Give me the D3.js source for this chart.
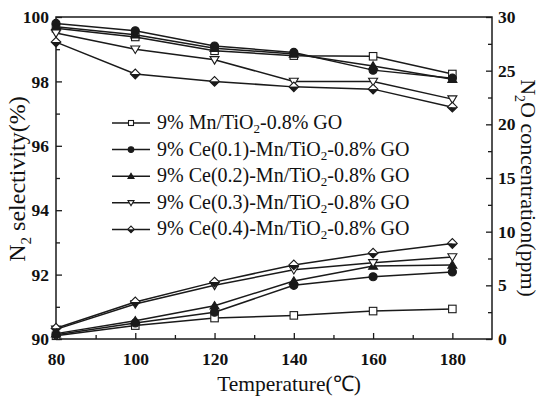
<!DOCTYPE html>
<html>
<head>
<meta charset="utf-8">
<script src="https://cdn.jsdelivr.net/npm/d3@7/dist/d3.min.js"></script>
<style>
  html, body { margin: 0; padding: 0; background: #fff; }
  svg { display: block; }
</style>
</head>
<body>
<svg id="chart" width="550" height="396"></svg>
<script>
// ---------------- DATA ----------------
const temperatures = [80, 100, 120, 140, 160, 180];

const seriesNames = [
  ["9% Mn/TiO", "2", "-0.8% GO"],
  ["9% Ce(0.1)-Mn/TiO", "2", "-0.8% GO"],
  ["9% Ce(0.2)-Mn/TiO", "2", "-0.8% GO"],
  ["9% Ce(0.3)-Mn/TiO", "2", "-0.8% GO"],
  ["9% Ce(0.4)-Mn/TiO", "2", "-0.8% GO"]
];
const markerTypes = ["squareOpen", "circleFilled", "triangleFilled", "triangleDownOpen", "diamondHalf"];

// N2 selectivity (%) - left axis
const selMn   = [99.65, 99.38, 98.95, 98.80, 98.78, 98.23];
const selCe01 = [99.80, 99.57, 99.10, 98.90, 98.35, 98.10];
const selCe02 = [99.70, 99.45, 99.03, 98.85, 98.48, 98.07];
const selCe03 = [99.50, 99.00, 98.67, 98.00, 98.00, 97.45];
const selCe04 = [99.22, 98.23, 98.00, 97.83, 97.76, 97.20];

// N2O concentration (ppm) - right axis
const n2oMn   = [0.3, 1.25, 1.95, 2.2, 2.6, 2.8];
const n2oCe01 = [0.4, 1.5, 2.5, 5.0, 5.8, 6.25];
const n2oCe02 = [0.5, 1.7, 3.1, 5.4, 6.8, 6.9];
const n2oCe03 = [0.9, 3.26, 5.0, 6.45, 7.1, 7.65];
const n2oCe04 = [1.0, 3.45, 5.3, 6.9, 8.0, 8.9];

const selSeries = [selMn, selCe01, selCe02, selCe03, selCe04];
const n2oSeries = [n2oMn, n2oCe01, n2oCe02, n2oCe03, n2oCe04];

const xTicks = [80, 100, 120, 140, 160, 180];
const yLeftTicks = [90, 92, 94, 96, 98, 100];
const yRightTicks = [0, 5, 10, 15, 20, 25, 30];

// ---------------- LAYOUT ----------------
const FONT = "'Liberation Serif', 'Times New Roman', Tinos, serif";
const svg = d3.select("#chart").attr("font-family", FONT);
const L = 56, R = 492, T = 17, B = 339;
const ink = "#1a1a1a";

const x = d3.scaleLinear().domain([80, 190]).range([L, R]);
const yL = d3.scaleLinear().domain([90, 100]).range([B, T]);
const yR = d3.scaleLinear().domain([0, 30]).range([B, T]);

// frame
svg.append("rect").attr("x", L).attr("y", T).attr("width", R - L).attr("height", B - T)
  .attr("fill", "none").attr("stroke", ink).attr("stroke-width", 1.5);

function styleAxis(g) {
  g.attr("font-family", FONT);
  g.select(".domain").remove();
  g.selectAll("line").attr("stroke", ink).attr("stroke-width", 1.3);
  g.selectAll("text").attr("font-weight", "bold").attr("font-size", "17.5px")
    .attr("font-family", FONT).attr("fill", "#111");
}
function styleMinor(g) {
  g.select(".domain").remove();
  g.selectAll("line").attr("stroke", ink).attr("stroke-width", 1.3);
}

// x axis
const gx = svg.append("g").attr("transform", `translate(0,${B})`)
  .call(d3.axisBottom(x).tickValues(xTicks).tickSize(-6).tickPadding(14).tickFormat(d3.format("d")));
styleAxis(gx);
svg.append("g").attr("transform", `translate(0,${B})`)
  .call(d3.axisBottom(x).tickValues([90, 110, 130, 150, 170]).tickSize(-4).tickFormat(""))
  .call(styleMinor);

// left axis
const gyl = svg.append("g").attr("transform", `translate(${L},0)`)
  .call(d3.axisLeft(yL).tickValues(yLeftTicks).tickSize(-6).tickPadding(7).tickFormat(d3.format("d")));
styleAxis(gyl);
svg.append("g").attr("transform", `translate(${L},0)`)
  .call(d3.axisLeft(yL).tickValues([91, 93, 95, 97, 99]).tickSize(-4).tickFormat(""))
  .call(styleMinor);

// right axis
const gyr = svg.append("g").attr("transform", `translate(${R},0)`)
  .call(d3.axisRight(yR).tickValues(yRightTicks).tickSize(-6).tickPadding(6).tickFormat(d3.format("d")));
styleAxis(gyr);
svg.append("g").attr("transform", `translate(${R},0)`)
  .call(d3.axisRight(yR).tickValues([2.5, 7.5, 12.5, 17.5, 22.5, 27.5]).tickSize(-4).tickFormat(""))
  .call(styleMinor);

// ---------------- MARKERS ----------------
function drawMarker(g, type, cx, cy, s) {
  const sw = 1.1;
  if (type === "squareOpen") {
    g.append("rect").attr("x", cx - s / 2).attr("y", cy - s / 2).attr("width", s).attr("height", s)
      .attr("fill", "#fff").attr("stroke", ink).attr("stroke-width", sw);
  } else if (type === "circleFilled") {
    g.append("circle").attr("cx", cx).attr("cy", cy).attr("r", s / 2 + 0.3)
      .attr("fill", ink).attr("stroke", ink).attr("stroke-width", sw);
  } else if (type === "triangleFilled") {
    const h = s * 0.95;
    g.append("path").attr("d", `M${cx},${cy - h * 0.6}L${cx + s * 0.6},${cy + h * 0.45}L${cx - s * 0.6},${cy + h * 0.45}Z`)
      .attr("fill", ink).attr("stroke", ink).attr("stroke-width", sw);
  } else if (type === "triangleDownOpen") {
    const h = s * 0.95;
    g.append("path").attr("d", `M${cx},${cy + h * 0.6}L${cx + s * 0.6},${cy - h * 0.45}L${cx - s * 0.6},${cy - h * 0.45}Z`)
      .attr("fill", "#fff").attr("stroke", ink).attr("stroke-width", sw);
  } else if (type === "diamondHalf") {
    const r = s * 0.65;
    g.append("path").attr("d", `M${cx - r},${cy}L${cx},${cy - r}L${cx + r},${cy}Z`).attr("fill", "#fff");
    g.append("path").attr("d", `M${cx - r},${cy}L${cx},${cy + r}L${cx + r},${cy}Z`).attr("fill", ink);
    g.append("path").attr("d", `M${cx - r},${cy}L${cx},${cy - r}L${cx + r},${cy}L${cx},${cy + r}Z`)
      .attr("fill", "none").attr("stroke", ink).attr("stroke-width", sw);
  }
}

const plot = svg.append("g");
function drawSeries(values, yScale, type) {
  const pts = temperatures.map((t, i) => [x(t), yScale(values[i])]);
  plot.append("path").attr("d", d3.line()(pts)).attr("fill", "none")
    .attr("stroke", ink).attr("stroke-width", 1.5);
  const mg = plot.append("g");
  pts.forEach(p => drawMarker(mg, type, p[0], p[1], 7.5));
}
for (let i = 0; i < 5; i++) {
  drawSeries(selSeries[i], yL, markerTypes[i]);
  drawSeries(n2oSeries[i], yR, markerTypes[i]);
}

// ---------------- LEGEND ----------------
const lg = svg.append("g");
seriesNames.forEach((parts, i) => {
  const yy = 123 + i * 26.6;
  lg.append("line").attr("x1", 112).attr("x2", 150).attr("y1", yy).attr("y2", yy)
    .attr("stroke", ink).attr("stroke-width", 1.5);
  drawMarker(lg, markerTypes[i], 131, yy, 5);
  const t = lg.append("text").attr("x", 157).attr("y", yy + 6).attr("font-size", "20px")
    .attr("font-family", FONT).attr("fill", "#111");
  t.append("tspan").text(parts[0]);
  t.append("tspan").attr("font-size", "13px").attr("dy", 4).text(parts[1]);
  t.append("tspan").attr("dy", -4).text(parts[2]);
});

// ---------------- AXIS TITLES ----------------
svg.append("text").attr("x", 289).attr("y", 391).attr("text-anchor", "middle")
  .attr("font-size", "21.5px").attr("font-family", FONT).attr("fill", "#111").text("Temperature(℃)");

const lt = svg.append("text").attr("transform", `translate(25,179) rotate(-90)`)
  .attr("text-anchor", "middle").attr("font-size", "24px").attr("font-family", FONT).attr("fill", "#111");
lt.append("tspan").text("N");
lt.append("tspan").attr("font-size", "15px").attr("dy", 6).text("2");
lt.append("tspan").attr("dy", -6).text(" selectivity(%)");

const rt = svg.append("text").attr("transform", `translate(521,188) rotate(90)`)
  .attr("text-anchor", "middle").attr("font-size", "22px").attr("font-family", FONT).attr("fill", "#111");
rt.append("tspan").text("N");
rt.append("tspan").attr("font-size", "14px").attr("dy", 6).text("2");
rt.append("tspan").attr("dy", -6).text("O concentration(ppm)");
</script>
</body>
</html>
